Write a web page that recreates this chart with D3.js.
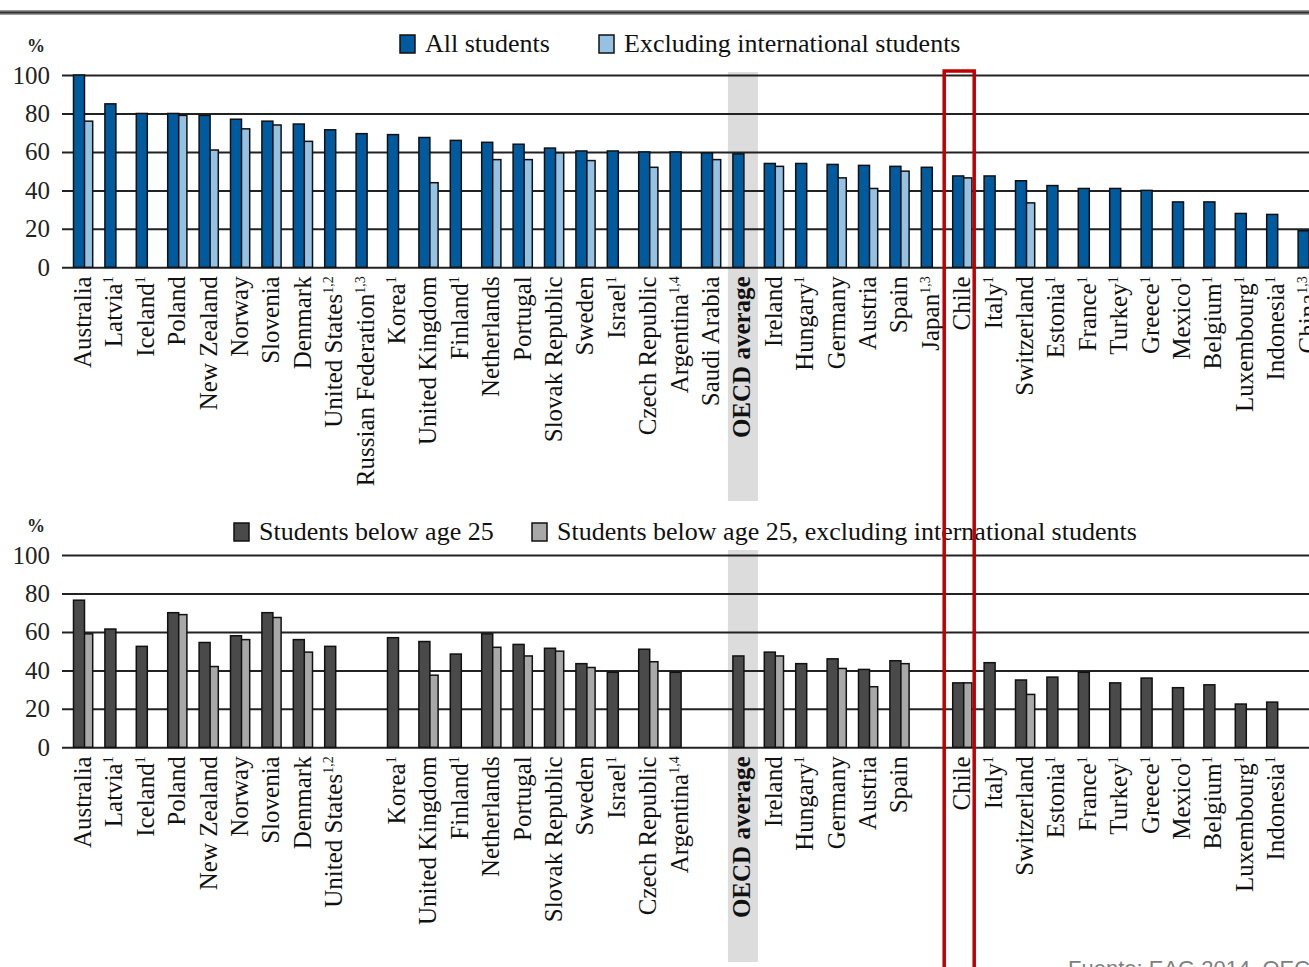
<!DOCTYPE html>
<html>
<head>
<meta charset="utf-8">
<script src="https://cdn.jsdelivr.net/npm/d3@7"></script>
<style>
  body { margin: 0; background: #fff; }
  svg { display: block; }
</style>
</head>
<body>
<div id="chart"></div>
<script>
var width = 1309;
var height = 967;

// categories, in the order of the chart
var countries = ["Australia", "Latvia", "Iceland", "Poland", "New Zealand", "Norway", "Slovenia",
    "Denmark", "United States", "Russian Federation", "Korea", "United Kingdom", "Finland",
    "Netherlands", "Portugal", "Slovak Republic", "Sweden", "Israel", "Czech Republic",
    "Argentina", "Saudi Arabia", "OECD average", "Ireland", "Hungary", "Germany", "Austria",
    "Spain", "Japan", "Chile", "Italy", "Switzerland", "Estonia", "France", "Turkey", "Greece",
    "Mexico", "Belgium", "Luxembourg", "Indonesia", "China"];
var notes = ["", "1", "1", "", "", "", "", "", "1,2", "1,3", "1", "", "1", "", "", "", "", "1", "",
    "1,4", "", "", "", "1", "", "", "", "1,3", "", "1", "", "1", "1", "1", "1", "1", "1", "1", "1", "1,3"];

// top panel
var allStudents = [100, 85, 80, 80, 79, 77, 76, 74.5, 71.5, 69.5, 69, 67.5, 66, 65, 64, 62, 60.5, 60.5,
    60, 60, 59.5, 59, 54, 54, 53.5, 53, 52.5, 52, 47.5, 47.5, 45, 42.5, 41, 41, 40, 34, 34, 28, 27.5, 19];
var allExclIntl = [76, null, null, 79, 61, 72, 74, 65.5, null, null, null, 44, null, 56, 56, 59.5, 55.5, null,
    52, null, 56, null, 52.5, null, 46.5, 41, 50, null, 46.5, null, 33.5, null, null, null, null, null, null, null, null, null];

// bottom panel
var below25 = [76.5, 61.5, 52.5, 70, 54.5, 58, 70, 56, 52.5, null, 57, 55, 48.5, 59, 53.5, 51.5, 43.5, 39,
    51, 39, null, 47.5, 49.5, 43.5, 46, 40.5, 45, null, 33.5, 44, 35, 36.5, 39, 33.5, 36, 31, 32.5, 22.5, 23.5, null];
var below25ExclIntl = [59, null, null, 69, 42, 56, 67.5, 49.5, null, null, null, 37.5, null, 52, 47.5, 50, 41.5, null,
    44.5, null, null, null, 47.5, null, 41, 31.5, 43.5, null, 33.5, null, 27.5, null, null, null, null, null, null, null, null, null];

var yTicks = [0, 20, 40, 60, 80, 100];

var svg = d3.select("#chart").append("svg")
    .attr("width", width)
    .attr("height", height);

// rule at the top of the page
svg.append("rect").attr("x", 0).attr("y", 10).attr("width", width).attr("height", 5).attr("fill", "#999");
svg.append("line").attr("x1", 0).attr("x2", width).attr("y1", 12.5).attr("y2", 12.5)
    .attr("stroke", "#333").attr("stroke-width", 2);

var x = d3.scaleBand()
    .domain(countries)
    .range([68, 68 + countries.length * 31.4])
    .padding(0);

function panel(cfg) {
    var y = d3.scaleLinear().domain([0, 100]).range([cfg.y0, cfg.y100]);
    var g = svg.append("g");

    // OECD average band
    g.append("rect")
        .attr("x", x("OECD average") + 0.5)
        .attr("y", cfg.bandTop)
        .attr("width", 30)
        .attr("height", cfg.bandBottom - cfg.bandTop)
        .attr("fill", "#dcdcdc");

    // grid / axis
    g.append("g")
        .attr("transform", "translate(62,0)")
        .call(d3.axisLeft(y).tickValues(yTicks).tickSize(-(width - 62)).tickPadding(12))
        .call(a => a.select(".domain").remove())
        .call(a => a.selectAll(".tick line").attr("stroke", "#222").attr("stroke-width", 2))
        .call(a => a.selectAll(".tick text")
            .style("font-family", "'Liberation Serif', serif")
            .style("font-size", "25px")
            .attr("fill", "#222"));

    g.append("text")
        .attr("x", 27).attr("y", cfg.y100 - 23)
        .style("font-family", "'Liberation Serif', serif")
        .style("font-size", "18px")
        .style("font-weight", "bold")
        .attr("fill", "#222")
        .text("%");

    var idx = d3.range(countries.length);

    // second series first so the dark bar sits on top at the overlap
    g.append("g").selectAll("rect")
        .data(idx.filter(i => cfg.s2[i] != null))
        .enter().append("rect")
        .attr("x", i => x(countries[i]) + 15.7)
        .attr("y", i => y(cfg.s2[i]))
        .attr("width", 9)
        .attr("height", i => y(0) - y(cfg.s2[i]))
        .attr("fill", cfg.c2)
        .attr("stroke", "#111")
        .attr("stroke-width", 1.5);

    g.append("g").selectAll("rect")
        .data(idx.filter(i => cfg.s1[i] != null))
        .enter().append("rect")
        .attr("x", i => x(countries[i]) + 5.5)
        .attr("y", i => y(cfg.s1[i]))
        .attr("width", 11)
        .attr("height", i => y(0) - y(cfg.s1[i]))
        .attr("fill", cfg.c1)
        .attr("stroke", "#111")
        .attr("stroke-width", 1.5);

    // category labels
    var labels = g.append("g").selectAll("text")
        .data(idx.filter(i => cfg.s1[i] != null))
        .enter().append("text")
        .attr("transform", i => "translate(" + (x(countries[i]) + 23) + "," + (cfg.y0 + 9) + ") rotate(-90)")
        .attr("text-anchor", "end")
        .style("font-family", "'Liberation Serif', serif")
        .style("font-size", "25px")
        .style("font-weight", i => countries[i] == "OECD average" ? "bold" : "normal")
        .attr("fill", "#111");
    labels.append("tspan").text(i => countries[i]);
    labels.append("tspan")
        .attr("dy", -9)
        .style("font-size", "14px")
        .text(i => notes[i]);

    // legend
    var lg = g.append("g");
    cfg.legend.forEach(function (l) {
        lg.append("rect")
            .attr("x", l.x).attr("y", cfg.legendY - 17)
            .attr("width", 15).attr("height", 18)
            .attr("fill", l.color)
            .attr("stroke", "#111").attr("stroke-width", 1.5);
        lg.append("text")
            .attr("x", l.x + 25).attr("y", cfg.legendY)
            .style("font-family", "'Liberation Serif', serif")
            .style("font-size", "26px")
            .attr("fill", "#111")
            .text(l.text);
    });
}

panel({
    y0: 267.3, y100: 75, bandTop: 72, bandBottom: 501,
    s1: allStudents, s2: allExclIntl, c1: "#005a9e", c2: "#95c1e2",
    legendY: 52,
    legend: [{ x: 400, color: "#005a9e", text: "All students" },
             { x: 599, color: "#95c1e2", text: "Excluding international students" }]
});

panel({
    y0: 747.3, y100: 555, bandTop: 550, bandBottom: 962,
    s1: below25, s2: below25ExclIntl, c1: "#4a4a4a", c2: "#a8a8a8",
    legendY: 540,
    legend: [{ x: 234, color: "#4a4a4a", text: "Students below age 25" },
             { x: 532, color: "#a8a8a8", text: "Students below age 25, excluding international students" }]
});

// highlight box around Chile
svg.append("rect")
    .attr("x", x("Chile") - 3)
    .attr("y", 71)
    .attr("width", 30)
    .attr("height", 920)
    .attr("fill", "none")
    .attr("stroke", "#c00000")
    .attr("stroke-width", 3.5);

svg.append("text")
    .attr("x", 1068).attr("y", 976)
    .style("font-family", "'Liberation Sans', Arial, sans-serif")
    .style("font-size", "22px")
    .attr("fill", "#808080")
    .text("Fuente: EAG 2014, OECD");
</script>
</body>
</html>
